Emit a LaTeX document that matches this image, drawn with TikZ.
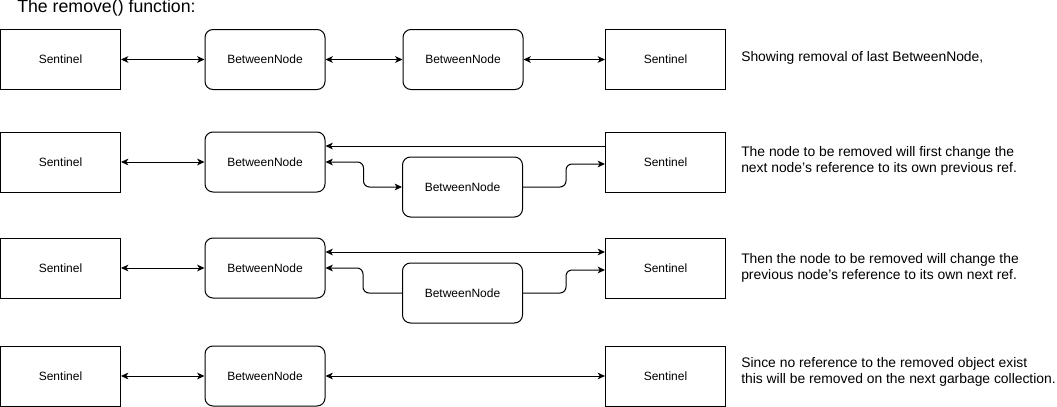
\documentclass[tikz,border=0pt]{standalone}
\usepackage{fontspec}
\setmainfont{Liberation Sans}
\usetikzlibrary{arrows.meta}
\tikzset{
  sent/.style={draw, line width=0.75pt, minimum width=90pt, minimum height=45pt, inner sep=0pt, font=\fontsize{9}{10}\selectfont},
  betw/.style={sent, rounded corners=6pt},
  desc/.style={anchor=west, align=left, inner sep=0pt, font=\fontsize{10.4}{12}\selectfont},
  arr/.style={line width=0.75pt, -{Stealth[length=5.5pt,width=5pt,inset=1.5pt]}},
  darr/.style={line width=0.75pt, {Stealth[length=5.5pt,width=5pt,inset=1.5pt]}-{Stealth[length=5.5pt,width=5pt,inset=1.5pt]}},
  elbow/.style={rounded corners=4.5pt}
}
\begin{document}
\begin{tikzpicture}[x=0.75pt,y=-0.75pt]
\useasboundingbox (0,0) rectangle (1057,407);
% title
\node[anchor=west, inner sep=0pt, font=\fontsize{13.3}{15}\selectfont] (title) at (17,7.5) {The remove() function:};
% row 1
\node[sent] (s1) at (60.5,59.5) {Sentinel};
\node[betw] (b1) at (265,59.5) {BetweenNode};
\node[betw] (c1) at (463,59.5) {BetweenNode};
\node[sent] (r1) at (665.5,59.5) {Sentinel};
\node[desc] (d1) at (741,58) {Showing removal of last BetweenNode,};
\draw[darr] (s1.east) -- (b1.west);
\draw[darr] (b1.east) -- (c1.west);
\draw[darr] (c1.east) -- (r1.west);
% row 2
\node[sent] (s2) at (60.5,162) {Sentinel};
\node[betw] (b2) at (265,162) {BetweenNode};
\node[betw] (c2) at (462.5,187) {BetweenNode};
\node[sent] (r2) at (665.5,162) {Sentinel};
\node[desc] (d2) at (741,161) {The node to be removed will first change the\\next node’s reference to its own previous ref.};
\draw[darr] (s2.east) -- (b2.west);
\draw[arr] ([yshift=12pt]r2.west) -- ([yshift=12pt]b2.east);
\draw[darr, elbow] (b2.east) -- ++(38,0) |- (c2.west);
\draw[arr, elbow] (c2.east) -- ++(43,0) |- ([yshift=-1.5pt]r2.west);
% row 3
\node[sent] (s3) at (60.5,268) {Sentinel};
\node[betw] (b3) at (265,268) {BetweenNode};
\node[betw] (c3) at (462.5,293) {BetweenNode};
\node[sent] (r3) at (665.5,268) {Sentinel};
\node[desc] (d3) at (741,267.5) {Then the node to be removed will change the\\previous node’s reference to its own next ref.};
\draw[darr] (s3.east) -- (b3.west);
\draw[darr] ([yshift=12pt]b3.east) -- ([yshift=12pt]r3.west);
\draw[arr, elbow] (c3.west) -- ++(-39,0) |- (b3.east);
\draw[arr, elbow] (c3.east) -- ++(43,0) |- ([yshift=-1.5pt]r3.west);
% row 4
\node[sent] (s4) at (60.5,376) {Sentinel};
\node[betw] (b4) at (265,376) {BetweenNode};
\node[sent] (r4) at (665.5,376) {Sentinel};
\node[desc] (d4) at (741,372) {Since no reference to the removed object exist\\this will be removed on the next garbage collection.};
\draw[darr] (s4.east) -- (b4.west);
\draw[darr] (b4.east) -- (r4.west);
\end{tikzpicture}
\end{document}
